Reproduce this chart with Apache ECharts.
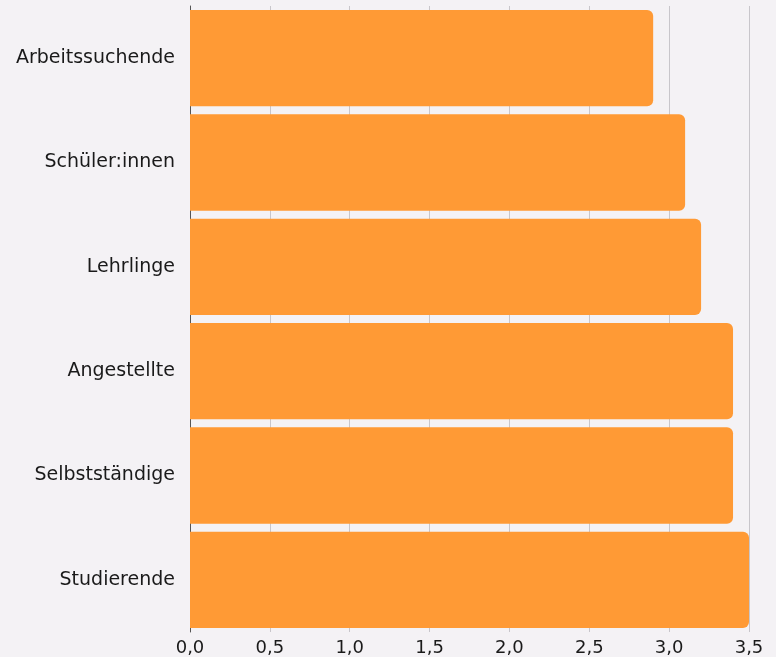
<!DOCTYPE html>
<html><head><meta charset="utf-8">
<script src="https://cdn.jsdelivr.net/npm/echarts@6/dist/echarts.min.js"></script>
<style>html,body{margin:0;padding:0;background:#f4f2f5;}#c{width:776px;height:657px;}</style>
</head><body><div id="c"></div>
<script>
const categories = ["Arbeitssuchende","Schüler:innen","Lehrlinge","Angestellte","Selbstständige","Studierende"];
const values = [2.9, 3.1, 3.2, 3.4, 3.4, 3.5];
const xTicks = [0, 0.5, 1, 1.5, 2, 2.5, 3, 3.5];

const chart = echarts.init(document.getElementById('c'));
chart.setOption({
  backgroundColor: '#f4f2f5',
  animation: false,
  grid: {left: 190, right: 27, top: 6, bottom: 25, containLabel: false},
  xAxis: {
    type: 'value', min: xTicks[0], max: xTicks[xTicks.length-1], interval: 0.5,
    axisLine: {show: false}, axisTick: {show: false},
    splitLine: {show: true, lineStyle: {color: '#c8c6cb', width: 1}},
    axisLabel: {color: '#1a1a1a', fontSize: 18, fontFamily: 'DejaVu Sans', margin: 7,
      formatter: v => v.toFixed(1).replace('.', ',')}
  },
  yAxis: {
    type: 'category', data: categories, inverse: true,
    axisLine: {show: true, lineStyle: {color: '#555', width: 1}},
    axisTick: {show: false},
    axisLabel: {color: '#1a1a1a', fontSize: 19, fontFamily: 'DejaVu Sans', margin: 15}
  },
  series: [{
    type: 'bar', data: values, barCategoryGap: '7.7%',
    itemStyle: {color: '#ff9a35', borderRadius: [0, 6, 6, 0]}
  }]
});
</script></body></html>
